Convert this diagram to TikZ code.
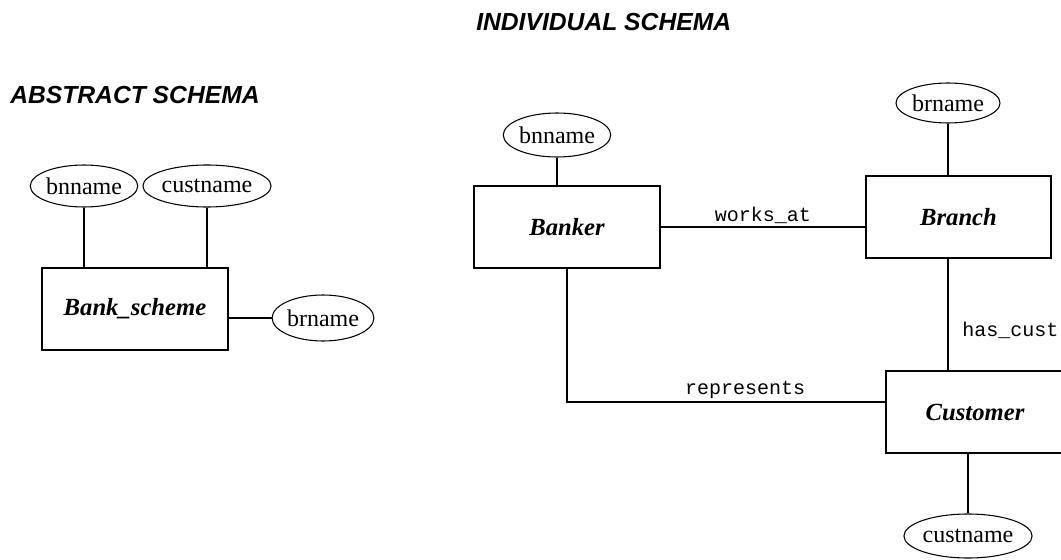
\documentclass[tikz,border=0pt]{standalone}
\usepackage{fontspec}
\setmainfont{Liberation Serif}
\newfontfamily\relfont{Liberation Mono}
\newfontfamily\headfont{Liberation Sans}
\usetikzlibrary{calc,shapes.geometric}

\begin{document}
\begin{tikzpicture}[
        x=0.75pt, y=-0.75pt,
        heading/.style={anchor=west, inner sep=0pt, font=\headfont\fontsize{18.5}{20}\selectfont\bfseries\itshape},
        entity/.style={draw, line width=1.4pt, minimum height=61.5pt, inner sep=0pt, font=\fontsize{18.5}{20}\selectfont\bfseries\itshape},
        attr/.style={draw, ellipse, line width=0.8pt, minimum height=31.5pt, inner sep=0pt, font=\fontsize{18}{20}\selectfont},
        rel/.style={inner sep=2pt, font=\relfont\fontsize{15}{17}\selectfont},
        link/.style={line width=1.4pt}
    ]
        \useasboundingbox (0,0) rectangle (1061,560);

        \node[heading] (abstitle) at (10,95) {ABSTRACT SCHEMA};
        \node[heading] (indtitle) at (476,22) {INDIVIDUAL SCHEMA};

        % abstract schema
        \node[entity, minimum width=139.5pt] (bankscheme) at (135,309) {Bank\_scheme};
        \node[attr, minimum width=78.75pt] (bnnameA) at (84,186) {bnname};
        \node[attr, minimum width=78pt] (custnameA) at (207,186) {custname};
        \node[attr, minimum width=73.5pt, minimum height=34.5pt] (brnameA) at (323,318) {brname};

        \draw[link] (bnnameA.south) -- (bnnameA.south |- bankscheme.north);
        \draw[link] (custnameA.south) -- (custnameA.south |- bankscheme.north);
        \draw[link] (brnameA.west) -- (brnameA.west -| bankscheme.east);

        % individual schema
        \node[entity, minimum width=139.5pt] (banker) at (567,227) {Banker};
        \node[entity, minimum width=138.75pt] (branch) at (958.5,217) {Branch};
        \node[entity, minimum width=133.5pt] (customer) at (975,412) {Customer};
        \node[attr, minimum width=78pt, minimum height=33pt] (bnnameI) at (557,135) {bnname};
        \node[attr, minimum width=78pt, minimum height=30pt] (brnameI) at (948,103) {brname};
        \node[attr, minimum width=94.5pt, minimum height=33pt] (custnameI) at (968,536) {custname};

        \draw[link] (bnnameI.south) -- (bnnameI.south |- banker.north);
        \draw[link] (brnameI.south) -- (brnameI.south |- branch.north);
        \draw[link] (custnameI.north) -- (custnameI.north |- customer.south);
        \draw[link] (banker.east) -- (banker.east -| branch.west) node[rel, midway, above] {works\_at};
        \draw[link] (brnameI.south |- branch.south) -- (brnameI.south |- customer.north) node[rel, pos=0.64, anchor=west, xshift=8pt] {has\_cust};
        \draw[link] (banker.south) |- ($(customer.west)+(0,-10)$) node[rel, pos=0.78, above] {represents};
    \end{tikzpicture}
\end{document}
